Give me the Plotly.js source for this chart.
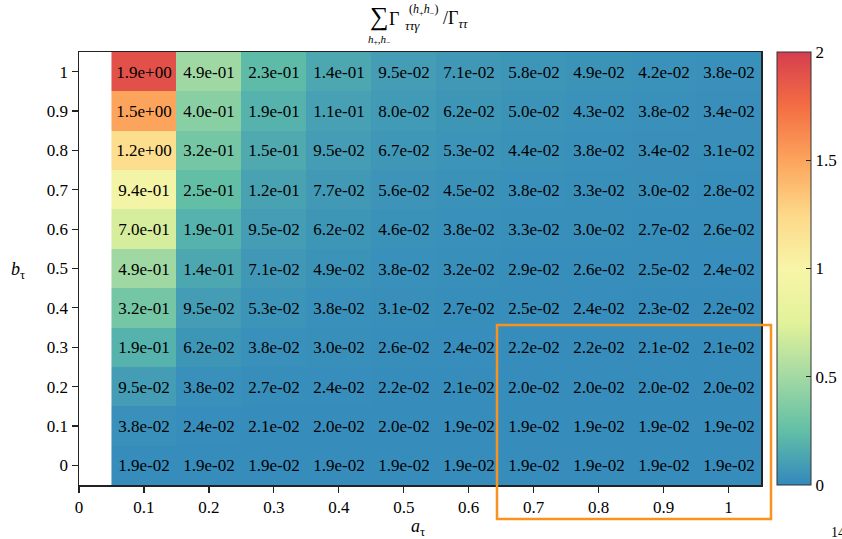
<!DOCTYPE html>
<html>
<head>
<meta charset="utf-8">
<script src="https://cdn.plot.ly/plotly-3.0.1.min.js"></script>
<style>html,body{margin:0;padding:0;background:#fff;}#chart{width:842px;height:539px;}</style>
</head>
<body>
<div id="chart"></div>
<script>
// a_tau values (columns) and b_tau values (rows)
const aTau = [0.1, 0.2, 0.3, 0.4, 0.5, 0.6, 0.7, 0.8, 0.9, 1.0];
const bTau = [0, 0.1, 0.2, 0.3, 0.4, 0.5, 0.6, 0.7, 0.8, 0.9, 1.0];
// ratio values, one row per b_tau (from 0 to 1)
const row_b00 = [1.9e-2, 1.9e-2, 1.9e-2, 1.9e-2, 1.9e-2, 1.9e-2, 1.9e-2, 1.9e-2, 1.9e-2, 1.9e-2];
const row_b01 = [3.8e-2, 2.4e-2, 2.1e-2, 2.0e-2, 2.0e-2, 1.9e-2, 1.9e-2, 1.9e-2, 1.9e-2, 1.9e-2];
const row_b02 = [9.5e-2, 3.8e-2, 2.7e-2, 2.4e-2, 2.2e-2, 2.1e-2, 2.0e-2, 2.0e-2, 2.0e-2, 2.0e-2];
const row_b03 = [1.9e-1, 6.2e-2, 3.8e-2, 3.0e-2, 2.6e-2, 2.4e-2, 2.2e-2, 2.2e-2, 2.1e-2, 2.1e-2];
const row_b04 = [3.2e-1, 9.5e-2, 5.3e-2, 3.8e-2, 3.1e-2, 2.7e-2, 2.5e-2, 2.4e-2, 2.3e-2, 2.2e-2];
const row_b05 = [4.9e-1, 1.4e-1, 7.1e-2, 4.9e-2, 3.8e-2, 3.2e-2, 2.9e-2, 2.6e-2, 2.5e-2, 2.4e-2];
const row_b06 = [7.0e-1, 1.9e-1, 9.5e-2, 6.2e-2, 4.6e-2, 3.8e-2, 3.3e-2, 3.0e-2, 2.7e-2, 2.6e-2];
const row_b07 = [9.4e-1, 2.5e-1, 1.2e-1, 7.7e-2, 5.6e-2, 4.5e-2, 3.8e-2, 3.3e-2, 3.0e-2, 2.8e-2];
const row_b08 = [1.2e+0, 3.2e-1, 1.5e-1, 9.5e-2, 6.7e-2, 5.3e-2, 4.4e-2, 3.8e-2, 3.4e-2, 3.1e-2];
const row_b09 = [1.5e+0, 4.0e-1, 1.9e-1, 1.1e-1, 8.0e-2, 6.2e-2, 5.0e-2, 4.3e-2, 3.8e-2, 3.4e-2];
const row_b10 = [1.9e+0, 4.9e-1, 2.3e-1, 1.4e-1, 9.5e-2, 7.1e-2, 5.8e-2, 4.9e-2, 4.2e-2, 3.8e-2];
const xTickVals = [0, 0.1, 0.2, 0.3, 0.4, 0.5, 0.6, 0.7, 0.8, 0.9, 1];
const xTickText = ["0", "0.1", "0.2", "0.3", "0.4", "0.5", "0.6", "0.7", "0.8", "0.9", "1"];
const yTickVals = [0, 0.1, 0.2, 0.3, 0.4, 0.5, 0.6, 0.7, 0.8, 0.9, 1];
const yTickText = ["0", "0.1", "0.2", "0.3", "0.4", "0.5", "0.6", "0.7", "0.8", "0.9", "1"];
const cbTickVals = [0, 0.5, 1, 1.5, 2];
const cbTickText = ["0", "0.5", "1", "1.5", "2"];

const zRows = [row_b00, row_b01, row_b02, row_b03, row_b04, row_b05, row_b06, row_b07, row_b08, row_b09, row_b10];
function fmt(v) {
  const s = v.toExponential(1);
  const m = s.match(/^(.*)e([+-])(\d+)$/);
  return m[1] + 'e' + m[2] + (m[3].length < 2 ? '0' + m[3] : m[3]);
}
const textRows = zRows.map(r => r.map(fmt));

const serif = "Liberation Serif";
const spectral = [
  [0.000, '#3288bd'], [0.125, '#62bfa6'], [0.250, '#a3d9a3'], [0.375, '#e2f29a'],
  [0.500, '#f8f5a8'], [0.625, '#fdd888'], [0.750, '#fca45c'], [0.875, '#f46d43'], [1.000, '#d53e4f']
];

const trace = {
  type: 'heatmap',
  x: aTau, y: bTau, z: zRows,
  text: textRows, texttemplate: '%{text}',
  textfont: {family: serif, size: 17, color: '#000'},
  colorscale: spectral, zmin: 0, zmax: 2,
  hoverinfo: 'x+y+z',
  colorbar: {
    x: 1.0235, xanchor: 'left', xref: 'paper',
    y: 0.5, yanchor: 'middle', len: 1, lenmode: 'fraction',
    thickness: 34, thicknessmode: 'pixels',
    outlinewidth: 1, outlinecolor: '#333',
    ticks: 'inside', ticklen: 5, tickcolor: '#222',
    tickvals: cbTickVals, ticktext: cbTickText,
    tickfont: {family: serif, size: 17, color: '#000'},
    xpad: 0, ypad: 0
  }
};

function px2x(px) { return (px - 79) / 682; }
function py2y(py) { return (485 - py) / 433; }

const ann = (text, px, py, size, xanchor) => ({
  xref: 'paper', yref: 'paper', x: px2x(px), y: py2y(py), text: text,
  showarrow: false, xanchor: xanchor || 'center', yanchor: 'middle',
  borderpad: 0, font: {family: serif, size: size, color: '#000'}
});

const layout = {
  width: 842, height: 539,
  margin: {l: 79, r: 81, t: 52, b: 54, autoexpand: false},
  paper_bgcolor: '#fff', plot_bgcolor: '#fff',
  font: {family: serif, color: '#000'},
  xaxis: {
    range: [0, 1.05], tickvals: xTickVals, ticktext: xTickText,
    ticks: 'outside', ticklen: 6, tickcolor: '#222', tickwidth: 1.2,
    showline: true, mirror: true, linecolor: '#222', linewidth: 1.5,
    showgrid: false, zeroline: false,
    tickfont: {family: serif, size: 17, color: '#000'}
  },
  yaxis: {
    range: [-0.05, 1.05], tickvals: yTickVals, ticktext: yTickText,
    ticks: 'outside', ticklen: 6, tickcolor: '#222', tickwidth: 1.2,
    showline: true, mirror: true, linecolor: '#222', linewidth: 1.5,
    showgrid: false, zeroline: false,
    tickfont: {family: serif, size: 17, color: '#000'}
  },
  shapes: [{
    type: 'rect', xref: 'paper', yref: 'paper',
    x0: px2x(497), x1: px2x(771), y0: py2y(519), y1: py2y(325),
    line: {color: '#f7931e', width: 2.5}, fillcolor: 'rgba(0,0,0,0)', layer: 'above'
  }],
  annotations: [
    ann('∑', 379, 17, 26),
    ann('<i>h</i><sub>+</sub>,<i>h</i><sub>−</sub>', 379, 40, 11),
    ann('Γ', 394, 19, 18),
    ann('(<i>h</i><sub>+</sub><i>h</i><sub>−</sub>)', 423, 10, 12),
    ann('<i>ττγ</i>', 404, 25, 13, 'left'),
    ann('/Γ<sub><i>ττ</i></sub>', 442, 20, 18, 'left'),
    ann('<i>a</i><sub>τ</sub>', 418, 527, 18),
    ann('<i>b</i><sub>τ</sub>', 18, 270, 18),
    ann('14', 830, 532, 14, 'left')
  ]
};

Plotly.newPlot('chart', [trace], layout, {displayModeBar: false, staticPlot: true});
</script>
</body>
</html>
